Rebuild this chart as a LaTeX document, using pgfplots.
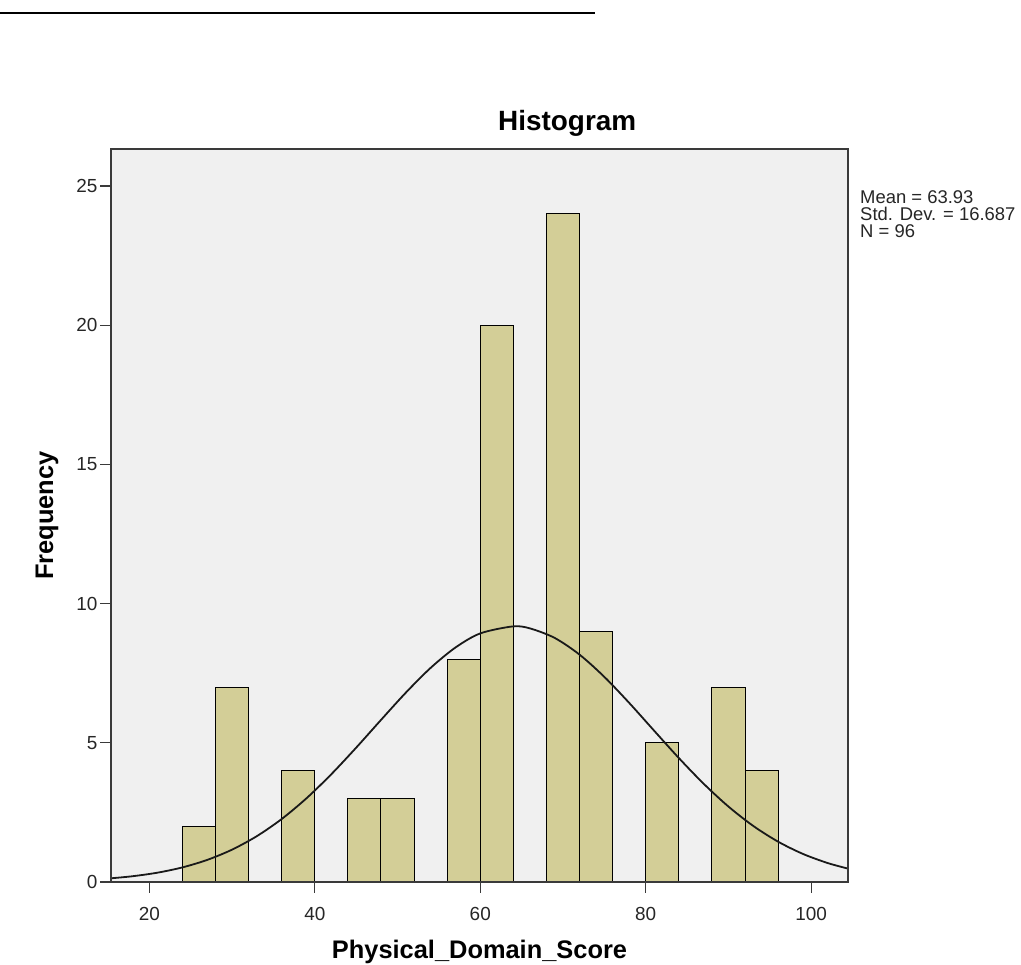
\documentclass[border=0pt]{standalone}
\usepackage{pgfplots}
\pgfplotsset{compat=1.18}
\usepackage{fontspec}
\setmainfont{Liberation Sans}
\definecolor{bg}{HTML}{F0F0F0}
\definecolor{barfill}{HTML}{D3CE97}
\definecolor{frame}{HTML}{3A3A3A}
\begin{document}
\begin{tikzpicture}[x=1bp,y=1bp]
\path[use as bounding box] (0,0) rectangle (1021,965);
\draw[line width=1.5bp, black] (0,952) -- (595,952);
\begin{axis}[
  at={(111bp,83bp)}, anchor=south west,
  scale only axis, width=737bp, height=733bp,
  xmin=15.37, xmax=104.45, ymin=0, ymax=26.33,
  xtick={20,40,60,80,100}, ytick={0,5,10,15,20,25},
  xtick pos=left, ytick pos=left,
  tick align=outside, major tick length=11bp,
  tick style={line width=1.3bp, frame},
  axis line style={line width=1.8bp, frame},
  axis background/.style={fill=bg},
  axis on top,
  /pgf/number format/assume math mode=true,
  ticklabel style={font=\fontsize{19}{19}\selectfont, text=black!85},
  xticklabel style={yshift=-11bp},
  yticklabel style={xshift=1bp},
  xlabel={\bfseries Physical\_Domain\_Score},
  xlabel style={at={(axis description cs:0.5,0)}, anchor=base, yshift=-77bp, font=\fontsize{25.5}{26}\selectfont},
  ylabel={\bfseries Frequency},
  ylabel style={at={(axis description cs:0,0.5)}, anchor=base, yshift=58bp, font=\fontsize{25.5}{26}\selectfont},
  title={\bfseries Histogram},
  title style={at={(axis description cs:0.619,1)}, anchor=base, yshift=13bp, font=\fontsize{28}{28}\selectfont},
]
\addplot[ybar, bar width=4, bar shift=0pt, fill=barfill, draw=black, line width=1bp] coordinates {
(26,2) (30,7) (38,4) (46,3) (50,3) (58,8) (62,20) (70,24) (74,9) (82,5) (90,7) (94,4)
};
\addplot[smooth, black!90, line width=1.8bp, mark=none] coordinates {
(15.37,0.1330) (18,0.2078) (21,0.3355) (24,0.5242) (27,0.7932) (30,1.1618)
(33,1.6476) (36,2.2622) (39,3.0075) (42,3.8712) (45,4.8243) (48,5.8203)
(51,6.7997) (54,7.6908) (57,8.4220) (60,8.9295) (63.93,9.1805) (66,9.1102)
(69,8.7664) (72,8.1673) (75,7.3673) (78,6.4340) (81,5.4403) (84,4.4539)
(87,3.5303) (90,2.7093) (93,2.0132) (96,1.4483) (99,1.0087) (102,0.6803)
(104.45,0.4814)
};
\end{axis}
\node[anchor=base west, font=\fontsize{18.5}{18.5}\selectfont, text=black!85, inner sep=0pt] at (860,761) {Mean = 63.93};
\node[anchor=base west, font=\fontsize{18.5}{18.5}\selectfont, text=black!85, inner sep=0pt] at (860,744) {Std. Dev. = 16.687};
\node[anchor=base west, font=\fontsize{18.5}{18.5}\selectfont, text=black!85, inner sep=0pt] at (860,727) {N = 96};
\end{tikzpicture}
\end{document}
